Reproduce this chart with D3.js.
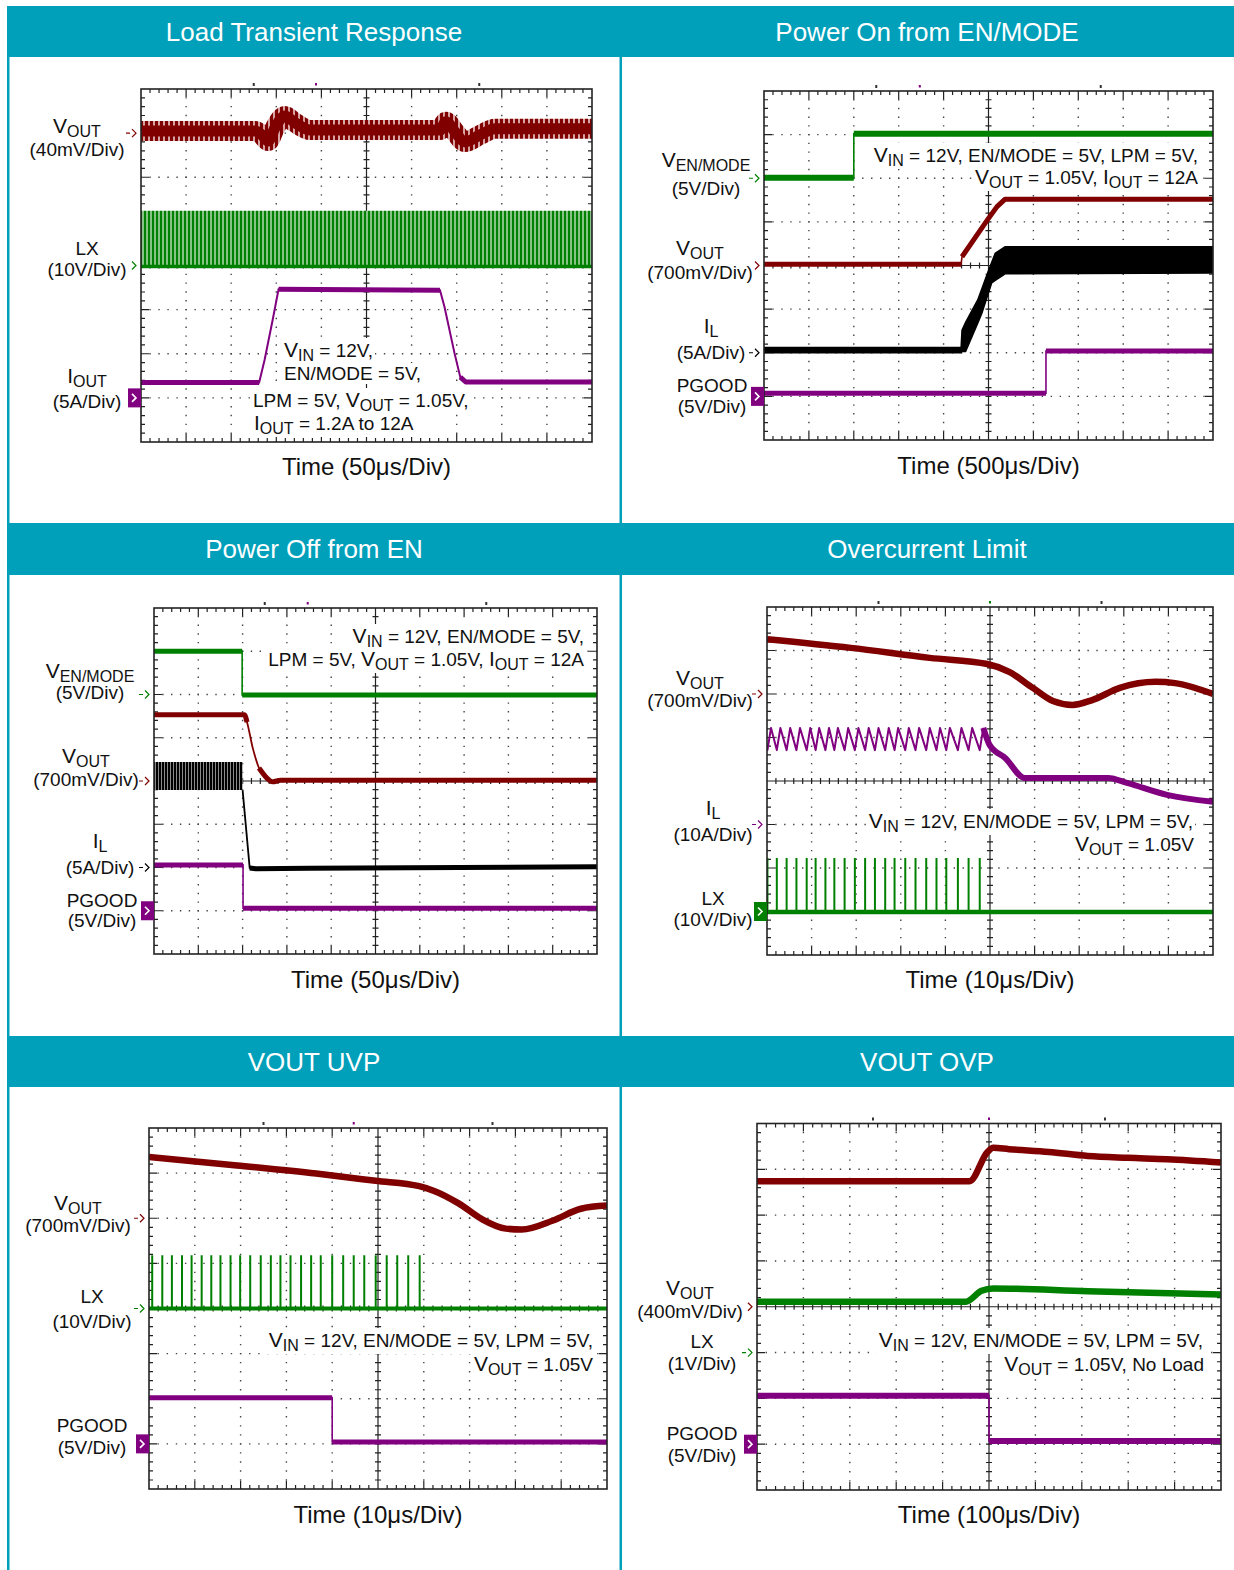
<!DOCTYPE html>
<html>
<head>
<meta charset="utf-8">
<script src="https://cdn.jsdelivr.net/npm/d3@7/dist/d3.min.js"></script>
<style>
html,body{margin:0;padding:0;background:#fff;}
svg{display:block;}
text{font-family:"Liberation Sans",Arial,Helvetica,sans-serif;}
</style>
</head>
<body>
<svg id="chart" width="1234" height="1570"></svg>
<script>
// ================= DATA (time and level in scope divisions: x 0..10, y 0..8 from bottom) =================
const panelTitles = ["Load Transient Response","Power On from EN/MODE","Power Off from EN","Overcurrent Limit","VOUT UVP","VOUT OVP"];
const timeLabels = ["Time (50μs/Div)","Time (500μs/Div)","Time (50μs/Div)","Time (10μs/Div)","Time (10μs/Div)","Time (100μs/Div)"];
const gridDivs = [10, 8];
const refMarks = [2.5, 7.5];
const trigTimes = [3.88, 3.47, 3.47, 5.0, 4.47, 5.0];

// Panel 1 – Load Transient Response
const p1Labels = [["V_{OUT}","(40mV/Div)"],["LX","(10V/Div)"],["I_{OUT}","(5A/Div)"]];
const p1Notes = ["V_{IN} = 12V,","EN/MODE = 5V,","LPM = 5V, V_{OUT} = 1.05V,","I_{OUT} = 1.2A to 12A"];
const p1Grounds = [7.0, 4.0, 1.0];
const p1Vout = [[0,7.05],[2.53,7.05],[2.68,6.96],[2.82,6.82],[2.97,7.12],[3.19,7.39],[3.41,7.24],[3.75,7.07],[6.63,7.07],[6.76,7.26],[6.96,7.03],[7.18,6.8],[7.52,6.96],[7.85,7.1],[10,7.1]];
const p1LxBand = [[0,3.98,5.24],[10,3.98,5.24]];
const p1Iout = [[0,1.35],[2.62,1.35],[2.74,1.86],[2.92,2.77],[3.05,3.46],[6.63,3.44],[6.73,3.06],[6.95,2.02],[7.08,1.47],[7.2,1.36],[10,1.36]];

// Panel 2 – Power On from EN/MODE
const p2Labels = [["V_{EN/MODE}","(5V/Div)"],["V_{OUT}","(700mV/Div)"],["I_{L}","(5A/Div)"],["PGOOD","(5V/Div)"]];
const p2Notes = ["V_{IN} = 12V, EN/MODE = 5V, LPM = 5V,","V_{OUT} = 1.05V, I_{OUT} = 12A"];
const p2Grounds = [6.0, 4.0, 2.0, 1.0];
const p2Ven = [[0,6.01],[2.0,6.01],[2.0,7.02],[10,7.02]];
const p2Vout = [[0,4.03],[4.39,4.03],[4.41,4.2],[4.98,5.05],[5.19,5.35],[5.37,5.52],[10,5.52]];
const p2IlBand = [[0,2.0,2.12],[4.39,2.0,2.12],[4.41,2.03,2.52],[4.49,2.03,2.7],[4.76,2.68,3.21],[4.85,2.9,3.46],[4.98,3.31,3.83],[5.07,3.6,4.07],[5.15,3.66,4.28],[5.37,3.81,4.43],[10,3.83,4.43]];
const p2Pgood = [[0,1.07],[6.28,1.07],[6.28,2.04],[10,2.04]];

// Panel 3 – Power Off from EN
const p3Labels = [["V_{EN/MODE}","(5V/Div)"],["V_{OUT}","(700mV/Div)"],["I_{L}","(5A/Div)"],["PGOOD","(5V/Div)"]];
const p3Notes = ["V_{IN} = 12V, EN/MODE = 5V,","LPM = 5V, V_{OUT} = 1.05V, I_{OUT} = 12A"];
const p3Grounds = [6.0, 4.0, 2.0, 1.0];
const p3Ven = [[0,7.0],[1.99,7.0],[1.99,5.99],[10,5.99]];
const p3Vout = [[0,5.53],[2.04,5.53],[2.1,5.36],[2.23,4.76],[2.37,4.3],[2.6,4.02],[2.68,3.98],[2.86,4.02],[10,4.02]];
const p3IlBand = [[0,3.79,4.44],[2.0,3.79,4.44]];
const p3Il = [[2.0,3.79],[2.16,1.99],[2.3,1.97],[3.5,1.98],[10,2.02]];
const p3Pgood = [[0,2.06],[2.01,2.06],[2.01,1.06],[10,1.06]];

// Panel 4 – Overcurrent Limit
const p4Labels = [["V_{OUT}","(700mV/Div)"],["I_{L}","(10A/Div)"],["LX","(10V/Div)"]];
const p4Notes = ["V_{IN} = 12V, EN/MODE = 5V, LPM = 5V,","V_{OUT} = 1.05V"];
const p4Grounds = [6.0, 3.0, 1.0];
const p4Vout = [[0,7.26],[1.88,7.06],[3.65,6.83],[4.94,6.69],[5.43,6.51],[5.96,6.14],[6.41,5.84],[6.85,5.75],[7.29,5.86],[7.91,6.14],[8.71,6.28],[9.15,6.25],[10,6.0]];
const p4LxPulses = [0.01,0.22,0.44,0.66,0.89,1.09,1.31,1.51,1.74,1.97,2.2,2.42,2.65,2.86,3.1,3.33,3.57,3.8,4.02,4.28,4.52,4.77];
const p4LxLevels = [0.99, 2.23];
const p4IlRipple = [4.71, 5.22];
const p4IlTail = [[4.99,4.83],[5.34,4.53],[5.78,4.07],[6.32,4.07],[7.65,4.07],[8.09,3.95],[8.97,3.68],[10,3.52]];

// Panel 5 – VOUT UVP
const p5Labels = [["V_{OUT}","(700mV/Div)"],["LX","(10V/Div)"],["PGOOD","(5V/Div)"]];
const p5Notes = ["V_{IN} = 12V, EN/MODE = 5V, LPM = 5V,","V_{OUT} = 1.05V"];
const p5Grounds = [6.0, 4.0, 1.0];
const p5Vout = [[0,7.36],[1.92,7.17],[3.65,6.99],[4.95,6.83],[5.9,6.71],[6.24,6.6],[6.76,6.33],[7.27,5.98],[7.79,5.77],[8.14,5.75],[8.82,5.95],[9.43,6.21],[10,6.28]];
const p5LxPulses = [0.07,0.29,0.5,0.72,0.93,1.15,1.36,1.56,1.78,1.99,2.21,2.44,2.66,2.87,3.09,3.32,3.54,3.75,4.0,4.24,4.47,4.7,4.95,5.19,5.42,5.66,5.91];
const p5LxLevels = [4.0, 5.18];
const p5Pgood = [[0,2.02],[4.0,2.02],[4.0,1.04],[10,1.04]];

// Panel 6 – VOUT OVP
const p6Labels = [["V_{OUT}","(400mV/Div)"],["LX","(1V/Div)"],["PGOOD","(5V/Div)"]];
const p6Notes = ["V_{IN} = 12V, EN/MODE = 5V, LPM = 5V,","V_{OUT} = 1.05V, No Load"];
const p6Grounds = [4.0, 3.0, 1.0];
const p6Vout = [[0,6.74],[4.58,6.74],[4.97,7.38],[5.09,7.47],[5.43,7.44],[6.29,7.38],[7.13,7.29],[8.0,7.25],[8.84,7.22],[10,7.15]];
const p6Lx = [[0,4.11],[4.5,4.11],[4.84,4.35],[5.09,4.4],[7.13,4.34],[10,4.27]];
const p6Pgood = [[0,2.06],[5.0,2.06],[5.0,1.07],[10,1.07]];

// ================= STYLE / LAYOUT =================
const RED = "#800000", GREEN = "#008000", PURPLE = "#800080", BLACK = "#000000", TEAL = "#00A0BB";
const SMOOTH = d3.curveMonotoneX, SHARP = d3.curveLinear;
const svg = d3.select("#chart");
const defs = svg.append("defs");

function stripes(id, c1, c2, period, w1) {
  const p = defs.append("pattern").attr("id", id).attr("patternUnits", "userSpaceOnUse")
    .attr("width", period).attr("height", 10);
  p.append("rect").attr("width", period).attr("height", 10).attr("fill", c2);
  p.append("rect").attr("width", w1).attr("height", 10).attr("fill", c1);
}
stripes("gStripe", "#008000", "#86c486", 4, 2);
stripes("rStripe", "#800000", "#d8a4a4", 5, 3);
stripes("kStripe", "#000000", "#8a8a8a", 3, 2);

// page frame
const headerRows = [[6,57,41],[523,575,558],[1036,1087,1071]];
const colCenters = [314, 927];
svg.append("rect").attr("x", 7).attr("y", 57).attr("width", 2.5).attr("height", 1513).attr("fill", TEAL);
svg.append("rect").attr("x", 619.5).attr("y", 57).attr("width", 2.5).attr("height", 1513).attr("fill", TEAL);
headerRows.forEach((r, ri) => {
  svg.append("rect").attr("x", 7).attr("y", r[0]).attr("width", 1227).attr("height", r[1] - r[0]).attr("fill", TEAL);
  [0, 1].forEach(c => {
    svg.append("text").attr("x", colCenters[c]).attr("y", r[2]).attr("text-anchor", "middle")
      .attr("font-size", 26).attr("fill", "#fff").text(panelTitles[ri * 2 + c]);
  });
});

function rich(t, str, base) {
  let off = 0;
  const add = (s, size, target) => {
    const ts = t.append("tspan").attr("font-size", size).text(s);
    if (target !== off) { ts.attr("dy", target - off); off = target; }
  };
  const re = /([A-Za-z])_\{([^}]*)\}/g;
  let last = 0, m;
  while ((m = re.exec(str))) {
    if (m.index > last) add(str.slice(last, m.index), base, 0);
    add(m[1], base + 2, 0);
    add(m[2], base - 3, 4);
    last = re.lastIndex;
  }
  if (last < str.length) add(str.slice(last), base, 0);
}

function drawPanel(idx, cfg) {
  const [x0, y0, x1, y1] = cfg.box;
  const x = d3.scaleLinear().domain([0, gridDivs[0]]).range([x0, x1]);
  const y = d3.scaleLinear().domain([0, gridDivs[1]]).range([y1, y0]);
  const g = svg.append("g");
  const mx = (x1 - x0) / (gridDivs[0] * 5), my = (y1 - y0) / (gridDivs[1] * 5);

  // dotted grid
  d3.range(1, gridDivs[0]).filter(i => i !== 5).forEach(i => {
    g.append("line").attr("x1", x(i)).attr("x2", x(i)).attr("y1", y0).attr("y2", y1)
      .attr("stroke", "#444").attr("stroke-width", 1.4)
      .attr("stroke-dasharray", `1.4 ${my - 1.4}`).attr("stroke-dashoffset", 0.7);
  });
  d3.range(1, gridDivs[1]).filter(j => j !== 4).forEach(j => {
    g.append("line").attr("y1", y(j)).attr("y2", y(j)).attr("x1", x0).attr("x2", x1)
      .attr("stroke", "#444").attr("stroke-width", 1.4)
      .attr("stroke-dasharray", `1.4 ${mx - 1.4}`).attr("stroke-dashoffset", 0.7);
  });
  // center cross + ticks, border ticks
  let p = "";
  p += `M${x(5)},${y0}V${y1}M${x0},${y(4)}H${x1}`;
  for (let k = 1; k < gridDivs[0] * 5; k++) {
    const xx = x0 + k * mx, L = (k % 5 === 0) ? 8 : 4;
    p += `M${xx},${y(4) - 3}V${y(4) + 3}`;
    p += `M${xx},${y0}V${y0 + L}M${xx},${y1}V${y1 - L}`;
  }
  for (let k = 1; k < gridDivs[1] * 5; k++) {
    const yy = y0 + k * my, L = (k % 5 === 0) ? 8 : 4;
    p += `M${x(5) - 3},${yy}H${x(5) + 3}`;
    p += `M${x0},${yy}H${x0 + L}M${x1},${yy}H${x1 - L}`;
  }
  g.append("path").attr("d", p).attr("stroke", "#222").attr("stroke-width", 1.2).attr("fill", "none");

  // marks above the graticule
  refMarks.forEach(t => g.append("rect").attr("x", x(t) - 1).attr("y", y0 - 6).attr("width", 2).attr("height", 3).attr("fill", "#333"));
  g.append("rect").attr("x", x(trigTimes[idx]) - 1).attr("y", y0 - 6).attr("width", 2).attr("height", 2.5).attr("fill", cfg.trigColor);

  // annotation knock-out (white background behind notes)
  const noteG = svg.append("g");
  const noteBg = noteG.append("g");
  cfg.notes.forEach((n, i) => {
    const [nx, ny, anchor] = cfg.notePos[i];
    const t = noteG.append("text").attr("x", nx).attr("y", ny).attr("text-anchor", anchor).attr("fill", "#111");
    rich(t, n, 19);
    const bb = t.node().getBBox();
    noteBg.append("rect").attr("x", bb.x - 2).attr("y", bb.y).attr("width", bb.width + 4).attr("height", bb.height).attr("fill", "#fff");
  });

  // traces (clipped)
  const cid = "clip" + idx;
  defs.append("clipPath").attr("id", cid).append("rect").attr("x", x0).attr("y", y0).attr("width", x1 - x0).attr("height", y1 - y0);
  const tg = svg.append("g").attr("clip-path", `url(#${cid})`);
  const mkLine = c => d3.line().x(d => x(d[0])).y(d => y(d[1])).curve(c || SHARP);
  const area = d3.area().x(d => x(d[0])).y0(d => y(d[1])).y1(d => y(d[2]));
  const api = {
    trace(data, color, w, thin = 1.6, curve) {
      const line = mkLine(curve);
      tg.append("path").attr("d", line(data)).attr("fill", "none").attr("stroke", color).attr("stroke-width", thin);
      let run = [data[0]];
      const flush = () => {
        if (run.length > 1) tg.append("path").attr("d", line(run)).attr("fill", "none").attr("stroke", color)
          .attr("stroke-width", w).attr("stroke-linejoin", "round");
      };
      for (let k = 1; k < data.length; k++) {
        const dx = Math.abs(x(data[k][0]) - x(data[k - 1][0])), dy = Math.abs(y(data[k][1]) - y(data[k - 1][1]));
        if (dy > 3 * dx) { flush(); run = [data[k]]; } else run.push(data[k]);
      }
      flush();
    },
    band(data, fill, outline) {
      tg.append("path").attr("d", area(data)).attr("fill", fill).attr("stroke", outline || "none").attr("stroke-width", 1.5);
    },
    stroke(data, paint, w, curve) {
      tg.append("path").attr("d", mkLine(curve)(data)).attr("fill", "none").attr("stroke", paint).attr("stroke-width", w).attr("stroke-linejoin", "round");
    },
    pulses(times, levels, color) {
      tg.append("g").selectAll("line").data(times).join("line")
        .attr("x1", d => x(d)).attr("x2", d => x(d)).attr("y1", y(levels[0])).attr("y2", y(levels[1]))
        .attr("stroke", color).attr("stroke-width", 2);
    }
  };
  cfg.draw(api);
  noteG.raise();

  // border
  svg.append("rect").attr("x", x0).attr("y", y0).attr("width", x1 - x0).attr("height", y1 - y0)
    .attr("fill", "none").attr("stroke", "#222").attr("stroke-width", 1.6);

  // channel ground markers
  cfg.markers.forEach(([v, color, kind]) => {
    const yy = y(v), xl = x0;
    if (kind === "box") {
      svg.append("rect").attr("x", xl - 13).attr("y", yy - 9.5).attr("width", 13).attr("height", 19).attr("fill", color);
      svg.append("path").attr("d", `M${xl - 9},${yy - 4}L${xl - 5},${yy}L${xl - 9},${yy + 4}`)
        .attr("fill", "none").attr("stroke", "#fff").attr("stroke-width", 1.6);
    } else {
      let d = `M${xl - 9},${yy - 4}L${xl - 5},${yy}L${xl - 9},${yy + 4}`;
      if (kind === "arrow") d = `M${xl - 15},${yy}H${xl - 11}` + d;
      svg.append("path").attr("d", d).attr("fill", "none").attr("stroke", color).attr("stroke-width", 1.2);
    }
  });

  // channel labels
  cfg.labels.forEach((lab, i) => {
    const [cx, b1, b2] = cfg.labelPos[i];
    const t1 = svg.append("text").attr("x", cx).attr("y", b1).attr("text-anchor", "middle").attr("fill", "#111");
    rich(t1, lab[0], 19);
    svg.append("text").attr("x", cx).attr("y", b2).attr("text-anchor", "middle").attr("fill", "#111")
      .attr("font-size", 19).text(lab[1]);
  });
  // time axis label
  svg.append("text").attr("x", (x0 + x1) / 2).attr("y", cfg.timeY).attr("text-anchor", "middle")
    .attr("font-size", 24).attr("fill", "#111").text(timeLabels[idx]);
}

// sawtooth vertices for panel 4 inductor current, from the switching pulse times
const p4Il = [[0, p4IlRipple[0] + 0.1]];
p4LxPulses.forEach(t => { p4Il.push([t, p4IlRipple[0]]); p4Il.push([t + 0.08, p4IlRipple[1]]); });

const panels = [
  { box:[141,89,592,442], labels:p1Labels, labelPos:[[77,133,156],[87,255,276],[87,383,408]],
    notes:p1Notes, notePos:[[284,357,"start"],[284,380,"start"],[253,407,"start"],[254,430,"start"]],
    markers:[[p1Grounds[0],RED,"arrow"],[p1Grounds[1],GREEN,"chev"],[p1Grounds[2],PURPLE,"box"]],
    trigColor:PURPLE, timeY:475,
    draw(a) {
      a.band(p1LxBand, "url(#gStripe)");
      a.trace([[0,p1LxBand[0][1]],[10,p1LxBand[1][1]]], GREEN, 3.5);
      a.stroke(p1Vout, "url(#rStripe)", 20, SMOOTH);
      a.stroke(p1Vout, RED, 11, SMOOTH);
      a.trace(p1Iout, PURPLE, 5, 2);
    } },
  { box:[764,91,1213,440], labels:p2Labels, labelPos:[[706,167,195],[700,255,279],[711,333,359],[712,392,413]],
    notes:p2Notes, notePos:[[1198,162,"end"],[1198,184,"end"]],
    markers:[[p2Grounds[0],GREEN,"arrow"],[p2Grounds[1],RED,"chev"],[p2Grounds[2],BLACK,"arrow"],[p2Grounds[3],PURPLE,"box"]],
    trigColor:PURPLE, timeY:474,
    draw(a) {
      a.trace(p2Ven, GREEN, 6);
      a.trace(p2Vout, RED, 5);
      a.band(p2IlBand, BLACK, BLACK);
      a.trace(p2Pgood, PURPLE, 5);
    } },
  { box:[154,608,597,954], labels:p3Labels, labelPos:[[90,678,699],[86,763,786],[100,848,874],[102,907,927]],
    notes:p3Notes, notePos:[[584,643,"end"],[584,666,"end"]],
    markers:[[p3Grounds[0],GREEN,"arrow"],[p3Grounds[1],RED,"arrow"],[p3Grounds[2],BLACK,"arrow"],[p3Grounds[3],PURPLE,"box"]],
    trigColor:PURPLE, timeY:988,
    draw(a) {
      a.trace(p3Ven, GREEN, 5);
      a.trace(p3Vout, RED, 5, 1.8, SMOOTH);
      a.band(p3IlBand, "url(#kStripe)");
      a.trace(p3Il, BLACK, 5, 1.8);
      a.trace(p3Pgood, PURPLE, 5);
    } },
  { box:[767,607,1213,955], labels:p4Labels, labelPos:[[700,685,707],[713,815,841],[713,905,926]],
    notes:p4Notes, notePos:[[1193,828,"end"],[1194,851,"end"]],
    markers:[[p4Grounds[0],RED,"arrow"],[p4Grounds[1],PURPLE,"arrow"],[p4Grounds[2],GREEN,"box"]],
    trigColor:GREEN, timeY:988,
    draw(a) {
      a.trace(p4Vout, RED, 6.5, 1.6, SMOOTH);
      a.stroke(p4Il, PURPLE, 2);
      a.trace([p4Il[p4Il.length - 1]].concat(p4IlTail), PURPLE, 6, 1.6, SMOOTH);
      a.trace([[0,p4LxLevels[0]],[10,p4LxLevels[0]]], GREEN, 4.5);
      a.pulses(p4LxPulses, p4LxLevels, GREEN);
    } },
  { box:[149,1128,607,1489], labels:p5Labels, labelPos:[[78,1210,1232],[92,1303,1328],[92,1432,1454]],
    notes:p5Notes, notePos:[[593,1347,"end"],[593,1371,"end"]],
    markers:[[p5Grounds[0],RED,"arrow"],[p5Grounds[1],GREEN,"arrow"],[p5Grounds[2],PURPLE,"box"]],
    trigColor:PURPLE, timeY:1523,
    draw(a) {
      a.trace(p5Vout, RED, 6.5, 1.6, SMOOTH);
      a.trace([[0,p5LxLevels[0]],[10,p5LxLevels[0]]], GREEN, 4);
      a.pulses(p5LxPulses, p5LxLevels, GREEN);
      a.trace(p5Pgood, PURPLE, 5);
    } },
  { box:[757,1123.5,1221,1490], labels:p6Labels, labelPos:[[690,1295,1318],[702,1348,1370],[702,1440,1462]],
    notes:p6Notes, notePos:[[1203,1347,"end"],[1204,1371,"end"]],
    markers:[[p6Grounds[0],RED,"chev"],[p6Grounds[1],GREEN,"arrow"],[p6Grounds[2],PURPLE,"box"]],
    trigColor:PURPLE, timeY:1523,
    draw(a) {
      a.trace(p6Vout, RED, 6.5, 1.6, SMOOTH);
      a.trace(p6Lx, GREEN, 6.5, 1.6, SMOOTH);
      a.trace(p6Pgood, PURPLE, 6);
    } }
];
panels.forEach((cfg, i) => drawPanel(i, cfg));
</script>
</body>
</html>
